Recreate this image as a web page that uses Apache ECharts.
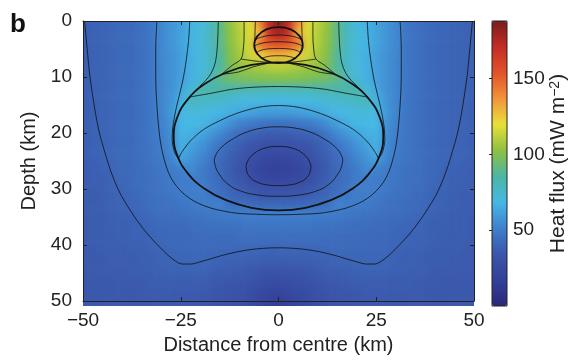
<!DOCTYPE html>
<html>
<head>
<meta charset="utf-8">
<script src="https://cdn.jsdelivr.net/npm/echarts@6/dist/echarts.min.js"></script>
<style>
  html, body { margin: 0; padding: 0; background: #fff; }
  #page { position: relative; width: 574px; height: 360px; }
  #heatClip { position: absolute; left: 83px; top: 21px; width: 391px; height: 285px; overflow: hidden; }
  #heat { position: absolute; left: -14px; top: -14px; width: 419px; height: 313px; filter: blur(3.5px); }
  #chart { position: absolute; left: 0; top: 0; width: 574px; height: 360px; }
</style>
</head>
<body>
<div id="page">
  <div id="heatClip"><div id="heat"></div></div>
  <div id="chart"></div>
</div>
<script>
// Heat flux section. The picture is mirror-symmetric about x = 0,
// so the grid is read for x >= 0 only and mirrored when the cells are built.
const distances = [0, 2.5, 5, 7.5, 10, 12.5, 15, 17.5, 20, 22.5, 25, 27.5, 30, 32.5, 35, 37.5, 40, 42.5, 45, 47.5, 50]
const depths = [0, 2, 4, 6, 8, 10, 12, 14, 16, 18, 20, 22, 24, 26, 28, 30, 32, 34, 36, 38, 40, 42, 44, 46, 48, 50]
// one row per depth, one value per distance (mW m-2)
const fluxRows = [
  [186, 172, 140, 118, 112, 104, 90, 78, 72, 67, 62, 58, 54, 48, 45, 43, 42, 41, 40, 39, 38],
  [180, 170, 130, 117, 110, 103, 90, 78, 72, 67, 62, 58, 54, 48, 45, 43, 42, 41, 40, 39, 38],
  [156, 153, 145, 116, 109, 102, 89, 78, 72, 67, 62, 58, 54, 48, 45, 43, 42, 41, 40, 39, 38],
  [130, 128, 124, 114, 107, 100, 87, 77, 71, 66, 61, 57, 54, 48, 45, 43, 42, 41, 40, 39, 38],
  [111, 110, 108, 106, 104, 98, 86, 77, 71, 66, 61, 57, 53, 48, 45, 43, 42, 41, 40, 39, 38],
  [101, 101, 100, 99, 98, 96, 91, 80, 72, 66, 61, 57, 53, 48, 45, 43, 42, 41, 40, 39, 38],
  [80, 80, 81, 81, 82, 83, 84, 85, 83, 72, 63, 57, 53, 48, 45, 43, 42, 41, 40, 39, 38],
  [69, 69, 70, 70, 71, 73, 75, 76, 78, 79, 66, 58, 53, 48, 45, 43, 42, 41, 40, 39, 38],
  [60, 60, 61, 62, 64, 66, 68, 70, 71, 72, 70, 59, 53, 48, 45, 43, 42, 41, 40, 39, 38],
  [45, 46, 47, 49, 52, 56, 61, 65, 68, 69, 69, 57, 52, 48, 45, 43, 42, 41, 40, 39, 38],
  [36, 36, 37, 39, 42, 47, 53, 58, 62, 65, 67, 56, 51, 48, 45, 43, 42, 41, 40, 39, 38],
  [29, 29, 31, 33, 37, 41, 46, 52, 57, 61, 66, 55, 50, 47, 45, 43, 42, 41, 40, 39, 38],
  [22, 23, 26, 29, 34, 38, 43, 48, 53, 58, 63, 53, 49, 47, 45, 43, 42, 41, 40, 39, 38],
  [18, 19, 22, 27, 32, 37, 42, 46, 50, 55, 52, 50, 48, 46, 44, 43, 42, 40, 39, 38, 37],
  [22, 23, 25, 29, 34, 38, 42, 46, 50, 51, 50, 49, 47, 45, 44, 43, 41, 40, 38, 38, 37],
  [32, 32, 33, 35, 38, 41, 44, 47, 51, 51, 50, 48, 46, 45, 43, 42, 40, 39, 38, 37, 37],
  [41, 41, 41, 42, 43, 44, 52, 51, 50, 49, 48, 46, 45, 44, 43, 41, 40, 39, 38, 37, 37],
  [51, 51, 51, 51, 50, 50, 49, 48, 47, 46, 45, 44, 44, 43, 41, 40, 39, 38, 37, 37, 36],
  [47, 47, 47, 47, 46, 46, 45, 45, 44, 44, 43, 43, 42, 41, 40, 39, 38, 38, 37, 37, 36],
  [44, 44, 44, 44, 44, 43, 43, 43, 43, 42, 42, 42, 41, 40, 39, 39, 38, 37, 37, 37, 36],
  [41, 41, 41, 41, 41, 42, 42, 42, 42, 42, 42, 41, 40, 39, 38, 38, 37, 37, 37, 36, 36],
  [37, 37, 38, 38, 39, 39, 40, 40, 41, 41, 41, 40, 39, 38, 38, 37, 37, 37, 36, 36, 36],
  [32, 32, 33, 34, 36, 37, 37, 38, 39, 39, 39, 39, 38, 38, 37, 37, 36, 36, 36, 36, 35],
  [26, 27, 29, 31, 33, 34, 35, 36, 37, 37, 37, 37, 37, 37, 36, 36, 36, 35, 35, 35, 35],
  [19, 21, 24, 27, 30, 32, 33, 34, 35, 36, 36, 36, 36, 36, 36, 35, 35, 35, 35, 35, 35],
  [15, 17, 21, 25, 28, 30, 32, 33, 34, 35, 35, 35, 35, 35, 35, 35, 35, 35, 35, 35, 35]
]

const fluxMin = 0
const fluxMax = 188
const fluxColors = ['#28287a', '#34409a', '#3a56aa', '#3f7fcc', '#46b8e6', '#4cb6a4',
  '#8cc040', '#e8e038', '#f2943a', '#e2522a', '#c42c26', '#7a1c1e']
const colorbarTicks = [50, 100, 150]

// contour lines, [distance, depth], right half
const outerLine = [[0, 40.5], [4, 40.6], [8, 40.9], [13, 41.6], [17, 42.4], [20, 43.0], [22.5, 43.4], [24.5, 43.4],
  [26.3, 42.9], [28.3, 41.8], [30.5, 40.3], [33.3, 38.2], [36, 35.8], [38.2, 33.5], [40.2, 31.2], [41.8, 28.8],
  [43.3, 26], [44.6, 23], [45.8, 20], [46.8, 16.5], [47.6, 13], [48.3, 9.5], [48.8, 6], [49.2, 3], [49.6, 0]]
const line2 = [[0, 34.6], [6, 34.5], [12, 34.2], [19, 33], [24, 31], [27.5, 28], [29.5, 24], [30.5, 20],
  [31.1, 15], [31.4, 10], [31.4, 5], [31.1, 0]]
const lineA = [[0, 11.7], [4, 11.75], [8, 11.9], [12, 12.2], [15, 12.6], [18, 13.0], [20.5, 13.3], [22.8, 13.6]]
const lineB = [[0, 15.1], [5, 15.4], [10.7, 16.5], [15, 17.8], [19.2, 19.4], [22.5, 21.4], [24.6, 23.3], [25.6, 24.6]]
const capArcs = [
  [[0, 2.5], [2.5, 2.6], [4.5, 2.9], [5.9, 3.3]],
  [[0, 3.7], [3, 3.8], [5, 4.1], [6.2, 4.5]],
  [[0, 4.9], [3, 5.0], [4.8, 5.3], [5.6, 5.7]],
  [[0, 6.2], [2, 6.25], [3.6, 6.5], [4.3, 6.7]]
]
// lines that stay on one side (drawn on both sides)
const line3 = [[25.6, 24.6], [26.6, 23.4], [27.2, 21], [26.9, 18.3], [26.1, 15.4], [25.1, 12.5], [24.3, 10],
  [23.6, 7], [23.0, 3.5], [22.7, 0]]
const line4 = [[15.4, 0], [15.5, 2.5], [15.7, 5], [16.2, 7.5], [17.2, 9.3], [18.6, 10.6], [20.2, 11.7],
  [21.6, 12.7], [22.8, 13.6]]
const line5 = [[8.8, 0], [8.8, 2.5], [9.0, 5], [9.6, 6.8], [11.8, 7.9], [14.5, 9.5]]
const wingUpper = [[3, 7.4], [6.5, 7.1], [9.6, 6.8]]
const wingLower = [[3, 7.6], [6.5, 8.2], [10.2, 9.1], [14.5, 9.5]]
const capSide = [[5.9, 0], [6.0, 1.8], [6.05, 3.6]]
// closed rings, right half from top to bottom
const bigBody = [[0, 7.4], [6.9, 7.85], [13.4, 9.2], [19.0, 11.3], [23.2, 14.0], [25.9, 17.2], [26.8, 20.6],
  [25.9, 24.0], [23.2, 27.2], [19.0, 29.9], [13.4, 32.0], [6.9, 33.35], [0, 33.8]]
const smallBody = [[0, 1.1], [3.1, 1.5], [5.4, 2.7], [6.2, 4.3], [5.4, 5.9], [3.1, 7.1], [0, 7.5]]
const ring2 = [[0, 18.9], [4, 19.1], [8, 19.8], [11.5, 21], [14.5, 22.5], [16.2, 24.2], [16.3, 25.5],
  [15.2, 27.3], [12.8, 29.2], [9.5, 30.4], [5, 31.1], [0, 31.3]]
const innerRing = [[0, 22.4], [3.5, 22.7], [6.3, 23.7], [8, 25.2], [8.2, 26.5], [7.3, 27.9], [5, 28.9], [2.5, 29.3], [0, 29.4]]

const mirror = pts => pts.map(([x, d]) => [-x, d])
const acrossCentre = half => mirror(half).reverse().concat(half.slice(1))
const closeRing = half => half.concat(mirror(half).reverse().slice(1, -1))

const cells = []
depths.forEach((d, i) => {
  distances.forEach((x, j) => {
    cells.push([x, d, fluxRows[i][j]])
    if (x > 0) cells.push([-x, d, fluxRows[i][j]])
  })
})

const thinPaths = [outerLine, line2, lineA, lineB, ...capArcs].map(acrossCentre)
;[line3, line4, line5, wingUpper, wingLower, capSide].forEach(p => {
  thinPaths.push(p, mirror(p))
})
const thinRings = [ring2, innerRing].map(closeRing)
const bodies = [bigBody, smallBody].map(closeRing)

const FONT = '"Liberation Sans", Arial, Helvetica, sans-serif'
const INK = '#222'
const xStep = distances[1] - distances[0]
const dStep = depths[1] - depths[0]
const xEdge = distances[distances.length - 1]
const dEdge = depths[depths.length - 1]

// each cell is a rect; cells on the section edge are stretched past it
// so the softened layer keeps full colour up to the clipped border
function renderCell(params, api) {
  const x = api.value(0)
  const d = api.value(1)
  let x0 = x - xStep / 2, x1 = x + xStep / 2
  let d0 = d - dStep / 2, d1 = d + dStep / 2
  if (x === -xEdge) x0 -= 5
  if (x === xEdge) x1 += 5
  if (d === 0) d0 -= 4
  if (d === dEdge) d1 += 4
  const a = api.coord([x0, d0])
  const b = api.coord([x1, d1])
  return {
    type: 'rect',
    shape: {
      x: Math.min(a[0], b[0]),
      y: Math.min(a[1], b[1]),
      width: Math.abs(b[0] - a[0]) + 0.5,
      height: Math.abs(b[1] - a[1]) + 0.5,
    },
    style: { fill: api.visual('color') },
  }
}

function ringRenderer(list, width) {
  return (params, api) => ({
    type: 'polygon',
    shape: { points: list[params.dataIndex].map(p => api.coord(p)), smooth: 0.45 },
    style: { fill: 'none', stroke: '#111', lineWidth: width, opacity: width > 1.5 ? 1 : 0.8 },
  })
}

// ---- colour layer (softened with a css blur, clipped to the plot area)
const heatChart = echarts.init(document.getElementById('heat'))
heatChart.setOption({
  animation: false,
  grid: { left: 14, top: 14, width: 391, height: 285 },
  xAxis: { type: 'value', min: -50, max: 50, show: false },
  yAxis: { type: 'value', min: 0, max: 50, inverse: true, show: false },
  visualMap: {
    show: false, type: 'continuous', min: fluxMin, max: fluxMax, dimension: 2, seriesIndex: 0,
    inRange: { color: fluxColors },
  },
  series: [{ type: 'custom', renderItem: renderCell, data: cells, silent: true }],
})

// ---- axes, contours and colour bar
const chart = echarts.init(document.getElementById('chart'))

const series = [
  ...thinPaths.map(path => ({
    type: 'line',
    data: path,
    symbol: 'none',
    smooth: 0.35,
    silent: true,
    lineStyle: { color: '#111', width: 1, opacity: 0.8 },
    z: 3,
  })),
  {
    type: 'custom',
    renderItem: ringRenderer(thinRings, 1),
    data: thinRings.map(() => [0, 0]),
    silent: true,
    z: 3,
  },
  {
    type: 'custom',
    renderItem: ringRenderer(bodies, 1.8),
    data: bodies.map(() => [0, 0]),
    silent: true,
    z: 4,
  },
]

const mainTick = { inside: true, length: 4, lineStyle: { color: INK } }
const mainLine = { show: true, onZero: false, lineStyle: { color: INK, width: 1 } }

chart.setOption({
  animation: false,
  textStyle: { fontFamily: FONT },
  grid: [
    { left: 83, top: 21, width: 391, height: 285 },
    { left: 492, top: 21, width: 15, height: 285, show: true, borderColor: INK, borderWidth: 1,
      backgroundColor: 'rgba(0,0,0,0)', z: 10 },
  ],
  xAxis: [
    {
      type: 'value', gridIndex: 0, min: -50, max: 50, interval: 25, position: 'bottom', z: 5,
      axisLine: mainLine, axisTick: mainTick, splitLine: { show: false },
      axisLabel: { fontSize: 19, color: INK, margin: 10, formatter: v => String(v).replace('-', '\u2212') },
      name: 'Distance from centre (km)', nameLocation: 'middle', nameGap: 34,
      nameTextStyle: { fontSize: 20, color: INK },
    },
    {
      type: 'value', gridIndex: 0, min: -50, max: 50, interval: 25, position: 'top', z: 5,
      axisLine: mainLine, axisTick: mainTick, axisLabel: { show: false }, splitLine: { show: false },
    },
    { type: 'value', gridIndex: 1, min: 0, max: 1, show: false },
  ],
  yAxis: [
    {
      type: 'value', gridIndex: 0, min: 0, max: 50, interval: 10, inverse: true, position: 'left', z: 5,
      axisLine: mainLine, axisTick: mainTick, splitLine: { show: false },
      axisLabel: { fontSize: 19, color: INK, margin: 11 },
      name: 'Depth (km)', nameLocation: 'middle', nameGap: 44, nameRotate: 90,
      nameTextStyle: { fontSize: 20, color: INK },
    },
    {
      type: 'value', gridIndex: 0, min: 0, max: 50, interval: 10, inverse: true, position: 'right', z: 5,
      axisLine: mainLine, axisTick: mainTick, axisLabel: { show: false }, splitLine: { show: false },
    },
    {
      type: 'value', gridIndex: 1, min: fluxMin, max: fluxMax, position: 'right', z: 11,
      axisLine: { show: false }, splitLine: { show: false },
      axisTick: { inside: true, length: 3, customValues: colorbarTicks, lineStyle: { color: INK } },
      axisLabel: { fontSize: 19, color: INK, margin: 6, customValues: colorbarTicks },
      name: 'Heat flux (mW m{s|\u22122})', nameLocation: 'middle', nameGap: 41, nameRotate: 90,
      nameMoveOverlap: false,
      nameTextStyle: {
        fontSize: 21, color: INK,
        rich: { s: { fontSize: 14, verticalAlign: 'top', color: INK, fontFamily: FONT } },
      },
    },
  ],
  visualMap: {
    type: 'continuous',
    min: fluxMin,
    max: fluxMax,
    seriesIndex: [],
    calculable: false,
    hoverLink: false,
    orient: 'vertical',
    left: 492,
    top: 21,
    padding: 0,
    itemWidth: 15,
    itemHeight: 285,
    inRange: { color: fluxColors },
  },
  graphic: [
    { type: 'text', left: 10, top: 12, style: { text: 'b', font: 'bold 26px ' + FONT, fill: '#111' } },
  ],
  series,
})
</script>
</body>
</html>
